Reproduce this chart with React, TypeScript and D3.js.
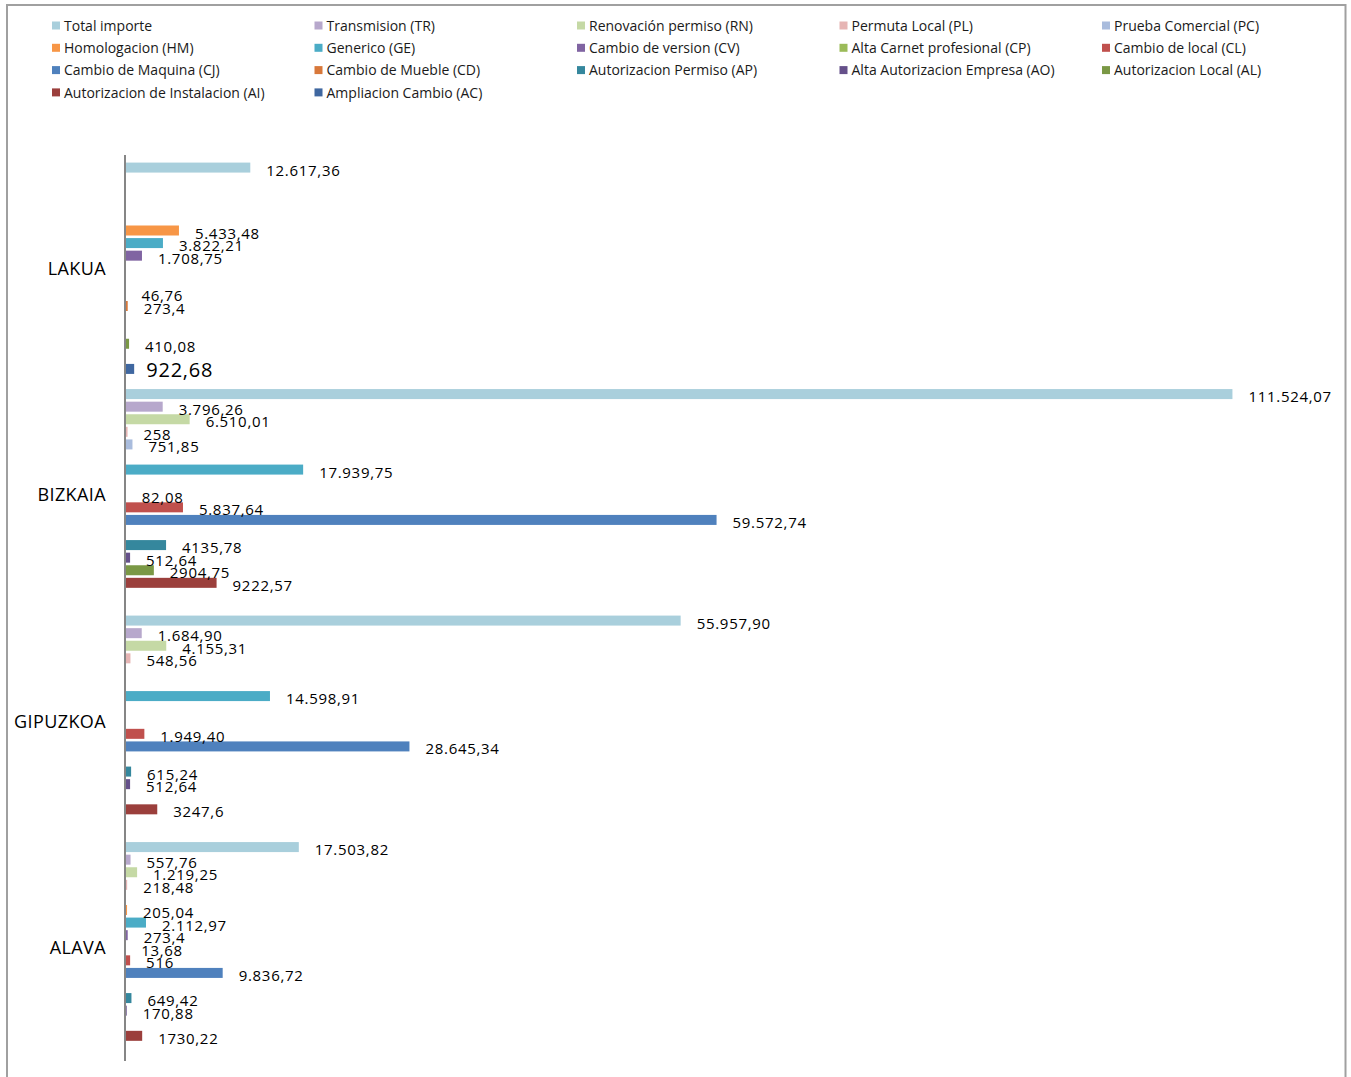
import React from "react";
import * as d3 from "d3";

const categories = ["LAKUA", "BIZKAIA", "GIPUZKOA", "ALAVA"];

const seriesNames = [
  "Total importe",
  "Transmision (TR)",
  "Renovación permiso (RN)",
  "Permuta Local (PL)",
  "Prueba Comercial (PC)",
  "Homologacion (HM)",
  "Generico (GE)",
  "Cambio de version (CV)",
  "Alta Carnet profesional (CP)",
  "Cambio de local (CL)",
  "Cambio de Maquina (CJ)",
  "Cambio de Mueble (CD)",
  "Autorizacion Permiso (AP)",
  "Alta Autorizacion Empresa (AO)",
  "Autorizacion Local (AL)",
  "Autorizacion de Instalacion (AI)",
  "Ampliacion Cambio (AC)",
];

const seriesColors = [
  "#A9CFDC", "#B7A8CC", "#C5D9A5", "#E6B5B4", "#A9BCDD", "#F79646",
  "#4BACC6", "#8064A2", "#9BBB59", "#C0504D", "#4F81BD", "#D8783A",
  "#35879D", "#65508A", "#7A9845", "#9B3F3C", "#3F67A0",
];

// values per series, in category order: LAKUA, BIZKAIA, GIPUZKOA, ALAVA
const totalImporte = [12617.36, 111524.07, 55957.9, 17503.82];
const transmision = [null, 3796.26, 1684.9, 557.76];
const renovacion = [null, 6510.01, 4155.31, 1219.25];
const permutaLocal = [null, 258, 548.56, 218.48];
const pruebaComercial = [null, 751.85, null, null];
const homologacion = [5433.48, null, null, 205.04];
const generico = [3822.21, 17939.75, 14598.91, 2112.97];
const cambioVersion = [1708.75, null, null, 273.4];
const altaCarnet = [null, 82.08, null, 13.68];
const cambioLocal = [null, 5837.64, 1949.4, 516];
const cambioMaquina = [46.76, 59572.74, 28645.34, 9836.72];
const cambioMueble = [273.4, null, null, null];
const autorizacionPermiso = [null, 4135.78, 615.24, 649.42];
const altaAutorizacionEmpresa = [null, 512.64, 512.64, 170.88];
const autorizacionLocal = [410.08, 2904.75, null, null];
const autorizacionInstalacion = [null, 9222.57, 3247.6, 1730.22];
const ampliacionCambio = [922.68, null, null, null];

const seriesValues: (number | null)[][] = [
  totalImporte, transmision, renovacion, permutaLocal, pruebaComercial,
  homologacion, generico, cambioVersion, altaCarnet, cambioLocal,
  cambioMaquina, cambioMueble, autorizacionPermiso, altaAutorizacionEmpresa,
  autorizacionLocal, autorizacionInstalacion, ampliacionCambio,
];

// series whose labels use the general (ungrouped) number format
const generalFormatSeries = [12, 14, 15];

function formatLabel(v: number, si: number): string {
  if (generalFormatSeries.includes(si) || v < 1000) {
    const s = String(Math.round(v * 100) / 100);
    return s.replace(".", ",");
  }
  const parts = v.toFixed(2).split(".");
  const intPart = parts[0].replace(/\B(?=(\d{3})+(?!\d))/g, ".");
  return intPart + "," + parts[1];
}

const FONT = "'Open Sans', 'Noto Sans', sans-serif";

export default function App() {
  if (typeof document !== "undefined") {
    document.body.style.margin = "0";
  }
  const W = 1351;
  const H = 1077;

  const x = d3.scaleLinear().domain([0, 120000]).range([125, 125 + 120000 * 0.00993]);
  const y = d3
    .scaleBand<string>()
    .domain(categories)
    .range([155, 1061])
    .paddingInner(1 / 18)
    .paddingOuter(1 / 36);
  const inner = d3
    .scaleBand<number>()
    .domain(d3.range(seriesNames.length))
    .range([0, y.bandwidth()]);
  const barH = 10;

  const legendX = [52, 314.5, 577, 839.5, 1102];
  const legendY = [26, 48.3, 70.6, 92.9];

  return (
    <svg width={W} height={H} style={{ display: "block", background: "#fff" }}>
      <rect x={7} y={5} width={1338.5} height={1100} fill="#fff" stroke="#a0a0a0" strokeWidth={2} />

      {/* legend */}
      {seriesNames.map((name, i) => {
        const col = i % 5;
        const row = Math.floor(i / 5);
        return (
          <g key={name} transform={`translate(${legendX[col]},${legendY[row]})`}>
            <rect x={0} y={-4.5} width={8} height={8} fill={seriesColors[i]} />
            <text x={12} y={4.8} fontFamily={FONT} fontSize={14} fill="#1a1a1a">
              {name}
            </text>
          </g>
        );
      })}

      {/* bars */}
      {categories.map((cat, ci) => (
        <g key={cat}>
          {seriesValues.map((vals, si) => {
            const v = vals[ci];
            if (v == null) return null;
            const cy = (y(cat) as number) + (inner(si) as number) + inner.bandwidth() / 2;
            return (
              <rect
                key={si}
                x={x(0)}
                y={cy - barH / 2}
                width={x(v) - x(0)}
                height={barH}
                fill={seriesColors[si]}
              />
            );
          })}
        </g>
      ))}

      {/* axis line */}
      <line x1={125} x2={125} y1={155} y2={1061} stroke="#868686" strokeWidth={2} />

      {/* category labels */}
      {categories.map((cat) => (
        <text
          key={cat}
          x={106}
          y={(y(cat) as number) + y.bandwidth() / 2 + 6.5}
          textAnchor="end"
          fontFamily={FONT}
          fontSize={18}
          letterSpacing={0.4}
          fill="#000"
        >
          {cat}
        </text>
      ))}

      {/* data labels */}
      {categories.map((cat, ci) => (
        <g key={cat}>
          {seriesValues.map((vals, si) => {
            const v = vals[ci];
            if (v == null) return null;
            const cy = (y(cat) as number) + (inner(si) as number) + inner.bandwidth() / 2;
            const big = si === 16;
            return (
              <text
                key={si}
                x={x(v) + (big ? 12 : 16)}
                y={cy + (big ? 8.5 : 8)}
                fontFamily={FONT}
                fontSize={big ? 20 : 15}
                letterSpacing={big ? 0.8 : 0.7}
                fill="#000"
              >
                {formatLabel(v, si)}
              </text>
            );
          })}
        </g>
      ))}
    </svg>
  );
}
